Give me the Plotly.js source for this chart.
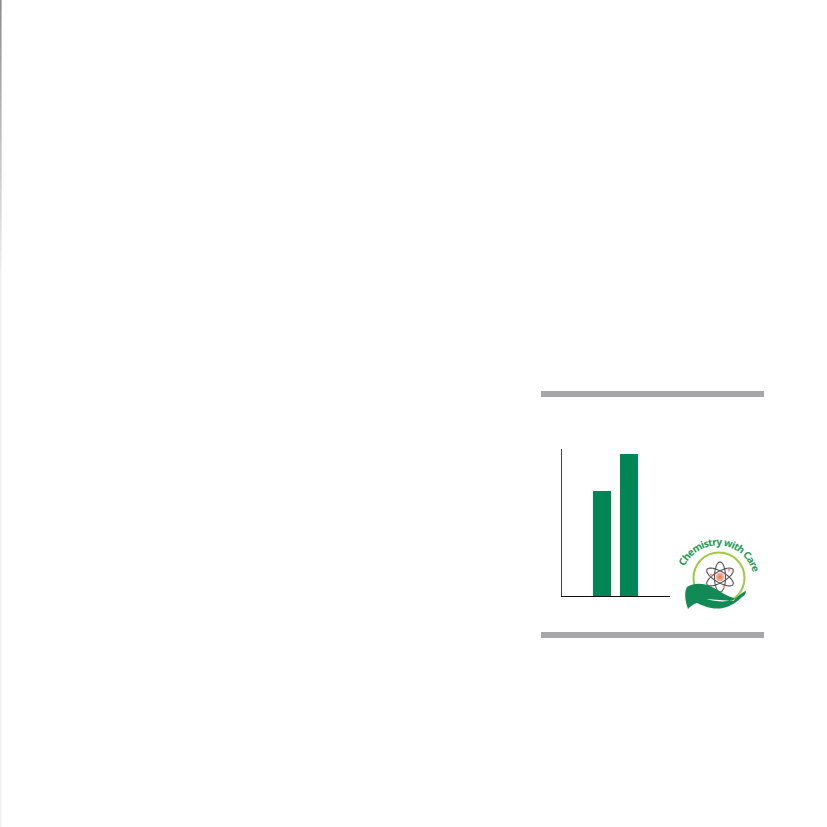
<!DOCTYPE html>
<html><head><meta charset="utf-8">
<script src="https://cdn.plot.ly/plotly-3.0.1.min.js"></script>
<style>html,body{margin:0;padding:0;background:#fff;overflow:hidden}#c{position:absolute;left:0;top:0;width:827px;height:827px}#o{position:absolute;left:0;top:0}</style>
</head><body>
<div id="c"></div>
<svg id="o" width="827" height="827" xmlns="http://www.w3.org/2000/svg" style="pointer-events:none">
<defs><path id="arc" d="M 684.5 566.6 A 36.5 36.5 0 0 1 752.9 572.6"/></defs>
<text font-family="Noto Sans, Open Sans, sans-serif" font-size="10" font-weight="700" fill="#1f9a55"><textPath href="#arc" startOffset="0" textLength="89" lengthAdjust="spacing">Chemistry with Care</textPath></text>
</svg>
<script>
var categories = ['A', 'B'];
var values = [105, 142];
var barColor = '#008556';
var W = 827, H = 827;
var L = 562, R = 670, T = 449, B = 596;
function px(x){return (x-L)/(R-L);}
function py(y){return (B-y)/(B-T);}
function P(pts,close){return pts.map(function(p,i){return (i?'L':'M')+px(p[0])+','+py(p[1]);}).join('')+(close?'Z':'');}
function curve(d){return d.replace(/(-?[\d.]+) (-?[\d.]+)/g,function(m,a,b){return px(+a)+','+py(+b);});}
function rect(x0,y0,x1,y1,c){return {type:'rect',xref:'paper',yref:'paper',x0:px(x0),x1:px(x1),y0:py(y0),y1:py(y1),fillcolor:c,line:{width:0},layer:'above'};}
function circ(cx,cy,r,fill,lc,lw){return {type:'circle',xref:'paper',yref:'paper',x0:px(cx-r),x1:px(cx+r),y0:py(cy-r),y1:py(cy+r),fillcolor:fill,line:{color:lc||fill,width:lw||0},layer:'above'};}
function ell(cx,cy,a,b,deg){var t=deg*Math.PI/180,pts=[];for(var i=0;i<48;i++){var u=i/48*2*Math.PI,x=a*Math.cos(u),y=b*Math.sin(u);pts.push([cx+x*Math.cos(t)-y*Math.sin(t),cy+x*Math.sin(t)+y*Math.cos(t)]);}
 return {type:'path',xref:'paper',yref:'paper',path:P(pts,true),line:{color:'#55555a',width:1.1},fillcolor:'rgba(0,0,0,0)',layer:'above'};}
function path(d,fill,lc,lw){return {type:'path',xref:'paper',yref:'paper',path:curve(d),fillcolor:fill,line:{color:lc||fill,width:lw||0},layer:'above'};}
var hand='M 688 609 C 685 600 684 592 687 587 C 695 582 705 583 714 588 C 721 592 727 596 731 597 C 735 598 736 600 733 601 L 706 599 C 716 602 727 602 733 600 C 738 597 742 592 746 591 C 746 594 744 596 742 597 C 737 602 731 606 723 608 C 712 610 704 606 697 603 C 693 604 690 607 688 609 Z';
var edge=[];
for(var i=0;i<28;i++){var v=Math.round(142+(240-142)*Math.min(1,i/27));edge.push(rect(0,i*10,1.6,(i+1)*10,'rgb('+v+','+v+','+(v+2)+')'));}
edge.push(rect(0,280,1.6,827,'#f0f0f0'));
var shapes=edge.concat([
 rect(541,391,764,397,'#a7a7aa'),
 rect(541,632,764,638,'#a7a7aa'),
 circ(719,578,25.5,'rgba(0,0,0,0)','#9ccb3f',2),
 ell(720,577,15,5.5,90),ell(720,577,15,5.5,30),ell(720,577,15,5.5,-30),
 circ(720,577,4.2,'#f4a58c'),circ(720,577,1.7,'#e9825f'),
 circ(711,575,1.5,'#f4a58c'),circ(729,570,1.5,'#f4a58c'),circ(724,587,1.5,'#f4a58c'),
 path(hand,'#118a55')
]);
var trace={type:'bar',x:categories,y:values,marker:{color:barColor,line:{width:0}},width:0.667,hoverinfo:'skip'};
var layout={width:W,height:H,showlegend:false,paper_bgcolor:'#fff',plot_bgcolor:'#fff',
 margin:{l:L,r:W-R,t:T,b:H-B,pad:0},
 xaxis:{type:'category',categoryorder:'array',categoryarray:categories,range:[-1.481,2.519],showgrid:false,zeroline:false,showticklabels:false,ticks:'',showline:true,linecolor:'#111',linewidth:1.3},
 yaxis:{range:[0,147],showgrid:false,zeroline:false,showticklabels:false,ticks:'',showline:true,linecolor:'#444',linewidth:1.1},
 shapes:shapes};
Plotly.newPlot('c',[trace],layout,{displayModeBar:false,staticPlot:true});
</script>
</body></html>
